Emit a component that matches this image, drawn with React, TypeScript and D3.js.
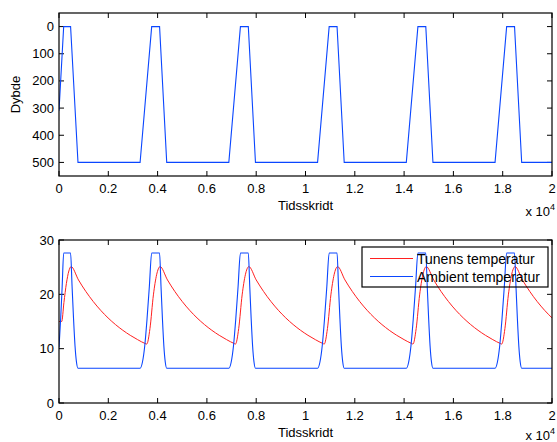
import React from "react";
import * as d3 from "d3";

// tidsskridt, dybde (m)
const depthSeries: [number, number][] = [
  [0, 310], [190, 0], [470, 0], [770, 500],
  [3290, 500], [3760, 0], [4080, 0], [4370, 500],
  [6890, 500], [7360, 0], [7680, 0], [7970, 500],
  [10490, 500], [10960, 0], [11280, 0], [11570, 500],
  [14090, 500], [14560, 0], [14880, 0], [15170, 500],
  [17690, 500], [18160, 0], [18480, 0], [18770, 500],
  [20000, 500],
];

// tidsskridt, ambient temperatur
const ambientSeries: [number, number][] = [
  [0, 10.2], [67, 15.5], [129, 21.5], [190, 27.6], [470, 27.6], [530, 21.5], [590, 15.5], [650, 10.5], [710, 7.5], [770, 6.4],
  [3290, 6.4], [3384, 7.5], [3478, 10.5], [3572, 15.5], [3666, 21.5], [3760, 27.6], [4080, 27.6], [4138, 21.5], [4196, 15.5], [4254, 10.5], [4312, 7.5], [4370, 6.4],
  [6890, 6.4], [6984, 7.5], [7078, 10.5], [7172, 15.5], [7266, 21.5], [7360, 27.6], [7680, 27.6], [7738, 21.5], [7796, 15.5], [7854, 10.5], [7912, 7.5], [7970, 6.4],
  [10490, 6.4], [10584, 7.5], [10678, 10.5], [10772, 15.5], [10866, 21.5], [10960, 27.6], [11280, 27.6], [11338, 21.5], [11396, 15.5], [11454, 10.5], [11512, 7.5], [11570, 6.4],
  [14090, 6.4], [14184, 7.5], [14278, 10.5], [14372, 15.5], [14466, 21.5], [14560, 27.6], [14880, 27.6], [14938, 21.5], [14996, 15.5], [15054, 10.5], [15112, 7.5], [15170, 6.4],
  [17690, 6.4], [17784, 7.5], [17878, 10.5], [17972, 15.5], [18066, 21.5], [18160, 27.6], [18480, 27.6], [18538, 21.5], [18596, 15.5], [18654, 10.5], [18712, 7.5], [18770, 6.4],
  [20000, 6.4],
];

// tidsskridt, tunens temperatur
const tunaSeries: [number, number][] = [
  [0, 15.0], [110, 15.0], [200, 18.5], [300, 22.0], [400, 24.3], [490, 25.1],
  [790, 22.65], [1090, 20.52], [1390, 18.67], [1690, 17.06], [1990, 15.66], [2290, 14.44], [2590, 13.38], [2890, 12.46], [3190, 11.66], [3490, 10.96], [3560, 10.85],
  [3690, 13.7], [3830, 19.9], [3960, 23.6], [4100, 25.1],
  [4400, 22.65], [4700, 20.52], [5000, 18.67], [5300, 17.06], [5600, 15.66], [5900, 14.44], [6200, 13.38], [6500, 12.46], [6800, 11.66], [7100, 10.96], [7160, 10.85],
  [7290, 13.7], [7430, 19.9], [7560, 23.6], [7700, 25.1],
  [8000, 22.65], [8300, 20.52], [8600, 18.67], [8900, 17.06], [9200, 15.66], [9500, 14.44], [9800, 13.38], [10100, 12.46], [10400, 11.66], [10700, 10.96], [10760, 10.85],
  [10890, 13.7], [11030, 19.9], [11160, 23.6], [11300, 25.1],
  [11600, 22.65], [11900, 20.52], [12200, 18.67], [12500, 17.06], [12800, 15.66], [13100, 14.44], [13400, 13.38], [13700, 12.46], [14000, 11.66], [14300, 10.96], [14360, 10.85],
  [14490, 13.7], [14630, 19.9], [14760, 23.6], [14900, 25.1],
  [15200, 22.65], [15500, 20.52], [15800, 18.67], [16100, 17.06], [16400, 15.66], [16700, 14.44], [17000, 13.38], [17300, 12.46], [17600, 11.66], [17900, 10.96], [17960, 10.85],
  [18090, 13.7], [18230, 19.9], [18360, 23.6], [18500, 25.1],
  [18800, 22.65], [19100, 20.52], [19400, 18.67], [19700, 17.06], [20000, 15.66],
];

const xTicks = [0, 2000, 4000, 6000, 8000, 10000, 12000, 14000, 16000, 18000, 20000];
const depthTicks = [0, 100, 200, 300, 400, 500];
const tempTicks = [0, 10, 20, 30];
const legendLabels = ["Tunens temperatur", "Ambient temperatur"];

const FONT = "'Liberation Sans', Arial, sans-serif";
const FS = 13;
const BLUE = "#0a46ff";
const RED = "#ff2020";
const W = 557;
const H = 442;
const TICK = 5;

const left = 59;
const right = 552;

const x = d3.scaleLinear().domain([0, 20000]).range([left, right]);
const fmtX = (v: number) => String(+(v / 1e4).toFixed(1));

function Panel({ id, top, bottom, y, yTicks, xLabel }: any) {
  const expY = Math.min(bottom + 40, H - 2);
  return (
    <g>
      <clipPath id={id}>
        <rect x={left} y={top} width={right - left} height={bottom - top} />
      </clipPath>
      {xTicks.map(t => (
        <g key={"x" + t}>
          <line x1={x(t)} x2={x(t)} y1={bottom} y2={bottom - TICK} stroke="#000" />
          <line x1={x(t)} x2={x(t)} y1={top} y2={top + TICK} stroke="#000" />
          <text x={x(t)} y={bottom + 17} textAnchor="middle" fontSize={FS}>{fmtX(t)}</text>
        </g>
      ))}
      {yTicks.map((t: number) => (
        <g key={"y" + t}>
          <line x1={left} x2={left + TICK} y1={y(t)} y2={y(t)} stroke="#000" />
          <line x1={right} x2={right - TICK} y1={y(t)} y2={y(t)} stroke="#000" />
          <text x={left - 5} y={y(t) + 4.5} textAnchor="end" fontSize={FS}>{t}</text>
        </g>
      ))}
      <text x={(left + right) / 2} y={bottom + 34} textAnchor="middle" fontSize={FS}>{xLabel}</text>
      <text x={right + 3} y={expY} textAnchor="end" fontSize={FS}>
        x 10<tspan fontSize={9} dy={-6}>4</tspan>
      </text>
    </g>
  );
}

export default function App() {
  const top1 = 13, bottom1 = 176;
  const top2 = 240, bottom2 = 403;
  const yDepth = d3.scaleLinear().domain([-50, 550]).range([top1, bottom1]);
  const yTemp = d3.scaleLinear().domain([0, 30]).range([bottom2, top2]);

  const depthLine = d3.line<[number, number]>().x(d => x(d[0])).y(d => yDepth(d[1]));
  const tempLine = d3.line<[number, number]>().x(d => x(d[0])).y(d => yTemp(d[1])).curve(d3.curveMonotoneX);

  return (
    <svg width={W} height={H} style={{ position: "absolute", left: 0, top: 0, fontFamily: FONT }} fill="#000">
      <rect width={W} height={H} fill="#fff" />
      <Panel id="c1" top={top1} bottom={bottom1} y={yDepth} yTicks={depthTicks} xLabel="Tidsskridt" />
      <path d={depthLine(depthSeries) || ""} fill="none" stroke={BLUE} strokeWidth={1.1} clipPath="url(#c1)" />
      <rect x={left} y={top1} width={right - left} height={bottom1 - top1} fill="none" stroke="#000" strokeWidth={1.2} />
      <text transform={`translate(20,${(top1 + bottom1) / 2}) rotate(-90)`} textAnchor="middle" fontSize={FS}>Dybde</text>

      <Panel id="c2" top={top2} bottom={bottom2} y={yTemp} yTicks={tempTicks} xLabel="Tidsskridt" />
      <path d={tempLine(tunaSeries) || ""} fill="none" stroke={RED} strokeWidth={1} clipPath="url(#c2)" />
      <path d={tempLine(ambientSeries) || ""} fill="none" stroke={BLUE} strokeWidth={1.1} clipPath="url(#c2)" />
      <rect x={left} y={top2} width={right - left} height={bottom2 - top2} fill="none" stroke="#000" strokeWidth={1.2} />

      <g>
        <rect x={362} y={247} width={186} height={40} fill="none" stroke="#000" strokeWidth={1.2} />
        {legendLabels.map((lab, i) => (
          <g key={lab}>
            <line x1={370} x2={413} y1={258.5 + i * 18} y2={258.5 + i * 18} stroke={i === 0 ? RED : BLUE} />
            <text x={417} y={263.5 + i * 18} fontSize={FS + 1}>{lab}</text>
          </g>
        ))}
      </g>
    </svg>
  );
}
